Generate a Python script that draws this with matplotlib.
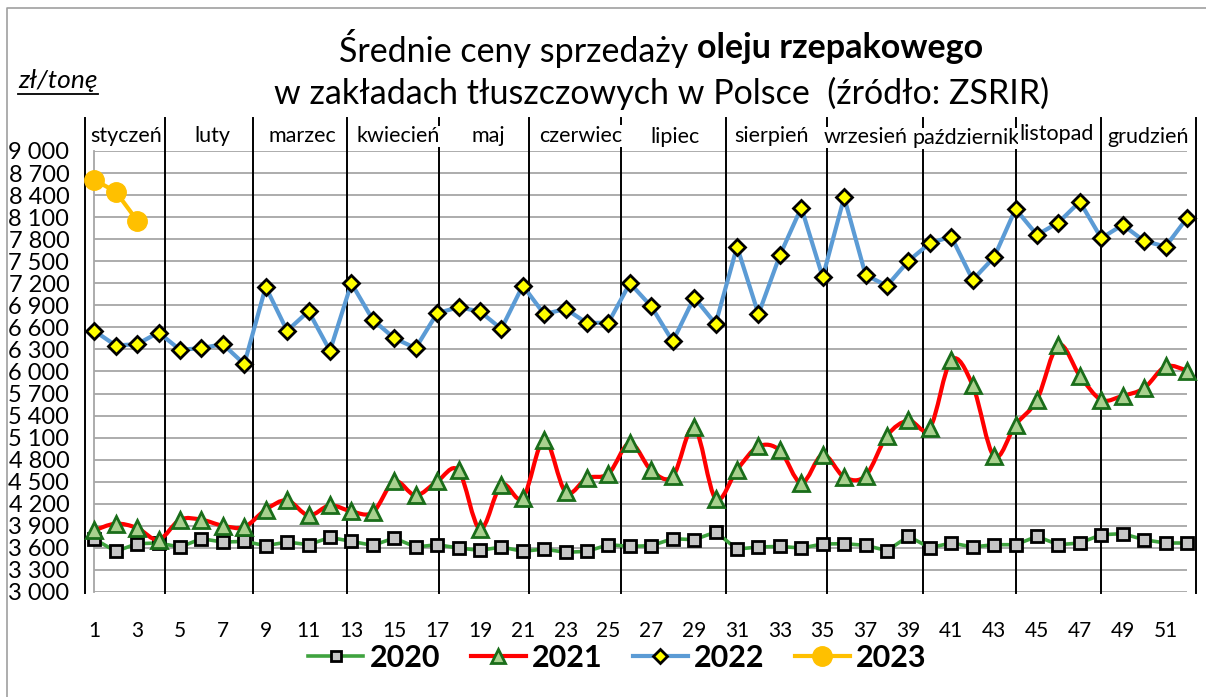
import matplotlib

matplotlib.use("Agg")

import matplotlib.pyplot as plt
from matplotlib.lines import Line2D
from matplotlib.path import Path
from matplotlib.patches import PathPatch

plt.rcParams["font.family"] = ["Lato", "DejaVu Sans"]

WEEKS = list(range(1, 53))

PRICE_2020 = [3720, 3553, 3657, 3666, 3611, 3725, 3679, 3688, 3630, 3679,
              3643, 3743, 3688, 3634, 3734, 3611, 3643, 3598, 3566, 3611,
              3553, 3584, 3539, 3553, 3643, 3620, 3630, 3725, 3711, 3815,
              3584, 3611, 3620, 3598, 3652, 3657, 3634, 3562, 3757, 3602,
              3666, 3612, 3643, 3643, 3756, 3643, 3666, 3779, 3793, 3711,
              3666, 3666]
PRICE_2021 = [3838, 3929, 3870, 3711, 3983, 3983, 3901, 3884, 4119, 4246,
              4042, 4178, 4096, 4083, 4504, 4314, 4504, 4654, 3856, 4459,
              4278, 5071, 4359, 4550, 4609, 5025, 4654, 4572, 5243, 4269,
              4663, 4980, 4926, 4482, 4867, 4563, 4581, 5125, 5334, 5229,
              6158, 5810, 4844, 5275, 5615, 6362, 5941, 5615, 5669, 5773,
              6068, 6013]
PRICE_2022 = [6553, 6353, 6372, 6530, 6295, 6317, 6372, 6100, 7151, 6553,
              6820, 6281, 7201, 6702, 6453, 6317, 6793, 6874, 6816, 6580,
              7169, 6779, 6852, 6657, 6666, 7201, 6884, 6408, 7006, 6648,
              7699, 6779, 7581, 8230, 7282, 8370, 7313, 7165, 7504, 7745,
              7835, 7246, 7554, 8211, 7858, 8026, 8311, 7813, 7994, 7776,
              7699, 8085]
PRICE_2023 = [8606, 8447, 8053]

MONTHS = ["styczeń", "luty", "marzec", "kwiecień", "maj", "czerwiec", "lipiec",
          "sierpień", "wrzesień", "październik", "listopad", "grudzień"]
# month label centres and separator positions, in week units
MONTH_LABEL_X = [2.5, 6.5, 10.7, 15.2, 19.4, 23.7, 28.1, 32.6, 37.0, 41.7, 45.9, 50.2]
MONTH_LABEL_Y = [9200, 9200, 9200, 9200, 9200, 9205, 9195, 9205, 9185, 9170, 9230, 9195]
SEPARATORS = [0.57, 4.3, 8.4, 12.8, 17.1, 21.3, 25.6, 30.5, 35.2, 39.7, 44.0, 48.0, 52.4]

Y_TICKS = list(range(3000, 9001, 300))
X_TICKS = list(range(1, 52, 2))


def smooth_path(xs, ys):
    # Excel-like smoothed line as cubic Bezier segments
    pts = list(zip(xs, ys))
    verts = [pts[0]]
    codes = [Path.MOVETO]
    n = len(pts)
    for i in range(n - 1):
        p0 = pts[i - 1] if i > 0 else pts[i]
        p1 = pts[i]
        p2 = pts[i + 1]
        p3 = pts[i + 2] if i + 2 < n else pts[i + 1]
        c1 = (p1[0] + (p2[0] - p0[0]) / 6, p1[1] + (p2[1] - p0[1]) / 6)
        c2 = (p2[0] - (p3[0] - p1[0]) / 6, p2[1] - (p3[1] - p1[1]) / 6)
        verts += [c1, c2, p2]
        codes += [Path.CURVE4] * 3
    return Path(verts, codes)


fig = plt.figure(figsize=(12.06, 6.97), dpi=100)
ax = fig.add_axes([0.0782, 0.1507, 0.906, 0.6327])

ax.set_xlim(1, 52)
ax.set_ylim(3000, 9000)
ax.set_yticks(Y_TICKS)
ax.set_yticklabels([f"{v:,}".replace(",", " ") for v in Y_TICKS], fontsize=17)
ax.set_xticks(X_TICKS)
ax.set_xticklabels([str(v) for v in X_TICKS], fontsize=15)
ax.tick_params(axis="both", length=0)
ax.tick_params(axis="y", pad=18)
ax.tick_params(axis="x", pad=21)
ax.grid(axis="y", color="#a6a6a6", linewidth=1.3)
ax.set_axisbelow(True)
for side in ("top", "right", "bottom"):
    ax.spines[side].set_visible(False)
ax.spines["left"].set_color("#a6a6a6")
ax.spines["left"].set_linewidth(1.3)

green_line = "#3fa33f"
red_line = "#ff0000"
blue_line = "#5b9bd5"
gold = "#ffc000"

ax.plot(WEEKS, PRICE_2020, color=green_line, linewidth=2.6, marker="s",
        markersize=8, markerfacecolor="#c6c6c6", markeredgecolor="black",
        markeredgewidth=2, zorder=3, clip_on=False)

ax.add_patch(PathPatch(smooth_path(WEEKS, PRICE_2021), facecolor="none",
                       edgecolor=red_line, linewidth=3, zorder=4))
ax.plot(WEEKS, PRICE_2021, linestyle="none", marker="^", markersize=11,
        markerfacecolor="#a9d18e", markeredgecolor="#1a6e1a",
        markeredgewidth=2, zorder=5, clip_on=False)

ax.plot(WEEKS, PRICE_2022, color=blue_line, linewidth=3, marker="D",
        markersize=8.5, markerfacecolor="#ffff00", markeredgecolor="black",
        markeredgewidth=2, zorder=6, clip_on=False)

ax.plot(WEEKS[:len(PRICE_2023)], PRICE_2023, color=gold, linewidth=3,
        marker="o", markersize=14, markerfacecolor=gold,
        markeredgecolor=gold, zorder=7, clip_on=False)

for x in SEPARATORS:
    ax.plot([x, x], [2985, 9450], color="black", linewidth=1.4,
            clip_on=False, zorder=2)

for name, x, y in zip(MONTHS, MONTH_LABEL_X, MONTH_LABEL_Y):
    ax.text(x, y, name, ha="center", va="center", fontsize=15.5,
            zorder=8, clip_on=False,
            bbox=dict(facecolor="white", edgecolor="none", pad=0.5))

# title with a bold part
fig.text(688 / 1206, 1 - 48 / 697, "Średnie ceny sprzedaży", ha="right",
         va="center", fontsize=24.5)
fig.text(697 / 1206, 1 - 48 / 697, "oleju rzepakowego", ha="left",
         va="center", fontsize=24.5, fontweight="bold")
fig.text(662 / 1206, 1 - 93 / 697,
         "w zakładach tłuszczowych w Polsce  (źródło: ZSRIR)",
         ha="center", va="center", fontsize=24.5)

fig.text(18 / 1206, 1 - 80 / 697, "zł/tonę", ha="left", va="center",
         fontsize=19, fontstyle="italic")
fig.add_artist(Line2D([18 / 1206, 98 / 1206], [1 - 94 / 697, 1 - 94 / 697],
                      color="black", linewidth=1.3))

# chart area border (left and top)
fig.add_artist(Line2D([7 / 1206, 7 / 1206, 1], [0, 1 - 8 / 697, 1 - 8 / 697],
                      color="#a0a0a0", linewidth=1.2))

handles = [
    Line2D([], [], color=green_line, linewidth=2.6, marker="s", markersize=7,
           markerfacecolor="#c6c6c6", markeredgecolor="black", markeredgewidth=2),
    Line2D([], [], color=red_line, linewidth=3, marker="^", markersize=10,
           markerfacecolor="#a9d18e", markeredgecolor="#1a6e1a", markeredgewidth=2),
    Line2D([], [], color=blue_line, linewidth=3, marker="D", markersize=7,
           markerfacecolor="#ffff00", markeredgecolor="black", markeredgewidth=2),
    Line2D([], [], color=gold, linewidth=3, marker="o", markersize=14,
           markerfacecolor=gold, markeredgecolor=gold),
]
fig.legend(handles, ["2020", "2021", "2022", "2023"], loc="center",
           bbox_to_anchor=(0.512, 1 - 658 / 697), ncol=4, frameon=False,
           prop={"size": 22, "weight": "bold"}, handlelength=1.8,
           handletextpad=0.2, columnspacing=1.0)

fig.savefig("out.png", dpi=100)
